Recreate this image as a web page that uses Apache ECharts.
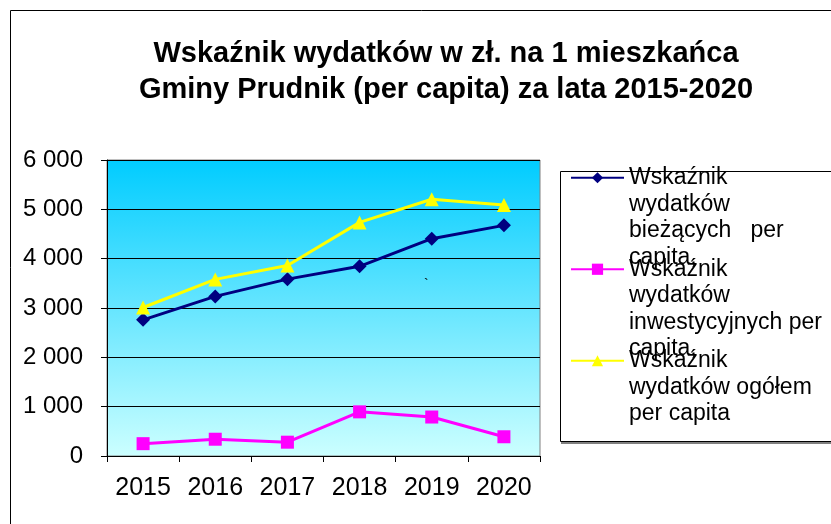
<!DOCTYPE html>
<html>
<head>
<meta charset="utf-8">
<script src="https://cdn.jsdelivr.net/npm/echarts@6/dist/echarts.min.js"></script>
<style>
  html, body { margin: 0; padding: 0; background: #fff; }
  #chart { width: 831px; height: 524px; }
</style>
</head>
<body>
<div id="chart"></div>
<script>
const years = ['2015', '2016', '2017', '2018', '2019', '2020'];
const biezace = [2760, 3235, 3585, 3845, 4405, 4675];
const inwestycyjne = [250, 340, 280, 895, 790, 390];
const ogolem = [3010, 3580, 3860, 4735, 5205, 5090];
const seriesNames = [
    'Wskaźnik\nwydatków\nbieżących   per\ncapita,',
    'Wskaźnik\nwydatków\ninwestycyjnych per\ncapita,',
    'Wskaźnik\nwydatków ogółem\nper capita'
];

const chart = echarts.init(document.getElementById('chart'));
const font = 'Liberation Sans, Arial, sans-serif';
const legendLine = 26.5;
const maxLines = 4;

chart.setOption({
    animation: false,
    title: {
        text: 'Wskaźnik wydatków w zł. na 1 mieszkańca\nGminy Prudnik (per capita) za lata 2015-2020',
        left: 446,
        textAlign: 'center',
        top: 36,
        padding: 0,
        textStyle: {
            fontFamily: font,
            fontSize: 29,
            fontWeight: 'bold',
            color: '#000',
            lineHeight: 36
        }
    },
    graphic: [
        {
            type: 'rect',
            shape: { x: 10.5, y: 10.5, width: 840, height: 540 },
            style: { fill: 'none', stroke: '#000', lineWidth: 1 },
            silent: true
        },
        {
            type: 'rect',
            shape: { x: 560.5, y: 171.5, width: 300, height: 270 },
            style: { fill: 'none', stroke: '#000', lineWidth: 1 },
            silent: true
        },
        {
            type: 'line',
            shape: { x1: 561, y1: 443, x2: 840, y2: 443 },
            style: { stroke: '#808080', lineWidth: 2 },
            silent: true
        },
        {
            type: 'text',
            left: 424,
            top: 278,
            style: { text: '`', fontSize: 14, fontFamily: font, fill: '#000' }
        }
    ],
    legend: {
        orient: 'vertical',
        left: 570,
        top: 85,
        padding: 0,
        itemWidth: 53,
        itemHeight: 14,
        itemGap: -94,
        data: seriesNames,
        // blank lines around the name keep its first line level with the icon
        formatter: function (name) {
            const lines = name.split('\n').length;
            return '\n'.repeat(maxLines - 1) + name + '\n'.repeat(maxLines - lines);
        },
        textStyle: {
            fontFamily: font,
            fontSize: 23,
            color: '#000',
            lineHeight: legendLine
        }
    },
    grid: {
        left: 107,
        right: 291,
        top: 160,
        bottom: 68,
        show: true,
        borderColor: '#808080',
        borderWidth: 1,
        backgroundColor: {
            type: 'linear', x: 0, y: 0, x2: 0, y2: 1,
            colorStops: [
                { offset: 0, color: '#00ccff' },
                { offset: 1, color: '#ccffff' }
            ]
        }
    },
    xAxis: {
        type: 'category',
        data: years,
        boundaryGap: true,
        axisLine: { lineStyle: { color: '#000', width: 1 } },
        axisTick: { show: true, interval: 0, length: 6, lineStyle: { color: '#000' } },
        axisLabel: {
            interval: 0,
            fontFamily: font,
            fontSize: 25,
            color: '#000',
            margin: 20
        }
    },
    yAxis: {
        type: 'value',
        min: 0,
        max: 6000,
        interval: 1000,
        axisLine: { show: true, lineStyle: { color: '#000', width: 1 } },
        axisTick: { show: true, length: 6, lineStyle: { color: '#000' } },
        splitLine: { lineStyle: { color: '#000', width: 1 } },
        axisLabel: {
            fontFamily: font,
            fontSize: 24,
            color: '#000',
            margin: 24,
            formatter: function (v) {
                return String(v).replace(/\B(?=(\d{3})+(?!\d))/g, ' ');
            }
        }
    },
    series: [
        {
            name: seriesNames[0],
            type: 'line',
            data: biezace,
            symbol: 'diamond',
            symbolSize: 14,
            itemStyle: { color: '#000080' },
            lineStyle: { color: '#000080', width: 3 }
        },
        {
            name: seriesNames[1],
            type: 'line',
            data: inwestycyjne,
            symbol: 'rect',
            symbolSize: 13,
            itemStyle: { color: '#ff00ff' },
            lineStyle: { color: '#ff00ff', width: 3 }
        },
        {
            name: seriesNames[2],
            type: 'line',
            data: ogolem,
            symbol: 'triangle',
            symbolSize: 14,
            itemStyle: { color: '#ffff00' },
            lineStyle: { color: '#ffff00', width: 3 }
        }
    ]
});
</script>
</body>
</html>
